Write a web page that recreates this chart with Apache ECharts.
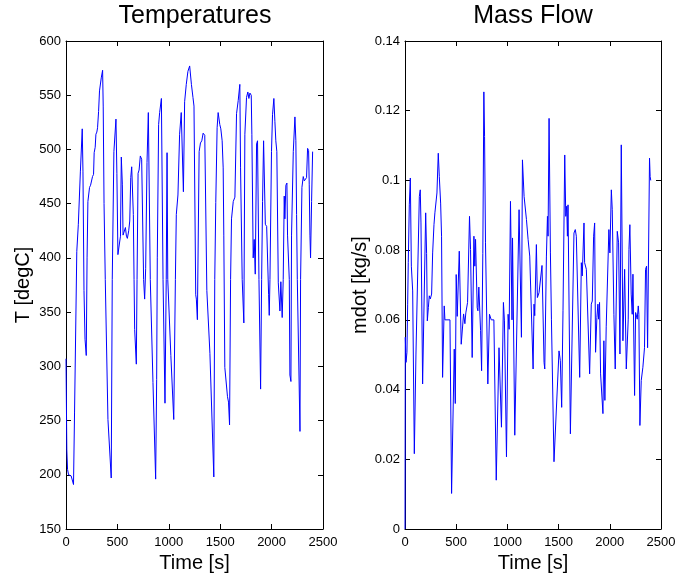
<!DOCTYPE html>
<html>
<head>
<meta charset="utf-8">
<script src="https://cdn.jsdelivr.net/npm/echarts@6/dist/echarts.min.js"></script>
<style>html,body{margin:0;padding:0;background:#fff;}#c{width:677px;height:575px;}</style>
</head>
<body>
<div id="c"></div>
<script>
// ---- Temperatures (left panel) ----
const tempTime = [0,8,15,25,50,73,83,105,120,140,158,165,175,185,197,205,213,229,239,252,258,268,274,284,291,300,307,317,326,343,356,362,370,382,408,440,450,466,486,495,505,515,530,538,548,555,568,578,588,597,610,620,630,639,649,655,662,668,684,691,701,711,723,736,755,765,775,788,801,820,846,872,882,888,901,911,928,944,963,975,983,990,1020,1048,1064,1073,1089,1105,1121,1131,1142,1154,1170,1186,1203,1220,1235,1245,1262,1268,1278,1295,1308,1321,1334,1350,1360,1370,1400,1438,1447,1457,1470,1480,1496,1506,1519,1529,1535,1545,1571,1581,1591,1601,1610,1627,1643,1659,1675,1691,1698,1714,1730,1740,1756,1769,1779,1789,1802,1808,1821,1831,1841,1854,1863,1877,1893,1903,1912,1922,1932,1939,1952,1958,1971,1977,1984,1999,2009,2022,2032,2041,2051,2065,2081,2090,2103,2113,2123,2129,2139,2149,2155,2172,2178,2188,2194,2211,2227,2236,2243,2250,2276,2282,2295,2308,2318,2331,2340,2350,2360,2366,2373,2379,2389,2399];
const tempValue = [307,223,205,200,199,191,257,406,431,480,519,480,370,325,310,400,452,465,467,467,475,477,497,502,514,516,520,535,554,566,573,540,450,380,251,197,380,498,528,478,403,410,420,493,468,421,421,428,420,418,425,434,474,484,483,440,380,334,302,380,478,481,494,491,380,362,390,488,534,380,285,196,288,400,523,534,547,380,266,380,497,380,310,251,380,440,458,514,534,535,461,544,560,572,577,560,548,540,366,362,343,498,506,508,515,513,512,370,312,198,380,451,520,534,523,519,508,483,421,299,272,267,246,380,436,452,456,533,545,560,483,380,340,514,548,553,547,552,550,514,400,417,385,505,508,380,279,380,452,508,508,431,429,428,366,347,380,498,532,547,526,508,498,377,351,378,345,380,457,436,467,469,421,380,292,286,421,498,530,508,440,380,240,380,465,475,471,471,474,501,499,468,421,400,452,498];

// ---- Mass Flow (right panel) ----
const flowTime = [0,3,10,19,26,32,42,52,62,75,91,107,140,149,156,172,202,211,218,228,237,247,260,270,283,292,302,312,325,335,348,357,367,383,390,439,455,481,491,500,510,530,549,572,585,594,611,630,640,656,673,682,689,705,712,721,738,748,760,770,777,786,796,809,825,842,868,891,918,942,961,971,991,1007,1017,1030,1040,1045,1050,1072,1114,1137,1147,1157,1163,1186,1202,1218,1228,1251,1260,1267,1283,1293,1309,1338,1358,1365,1381,1391,1397,1407,1413,1420,1430,1446,1455,1504,1517,1530,1543,1560,1570,1579,1586,1592,1615,1650,1663,1673,1706,1722,1731,1748,1754,1771,1803,1819,1829,1842,1852,1861,1874,1884,1890,1900,1910,1933,1942,1952,1965,1991,2001,2015,2024,2040,2053,2073,2086,2099,2112,2128,2145,2161,2180,2187,2196,2209,2219,2226,2242,2252,2268,2278,2284,2294,2307,2323,2339,2349,2359,2369,2388,2394,2400];
const flowValue = [0,0.055,0.0478,0.0507,0.0645,0.0764,0.093,0.1007,0.0754,0.0683,0.0216,0.0502,0.0954,0.0973,0.0878,0.0416,0.0907,0.079,0.0597,0.0635,0.0669,0.066,0.0674,0.0792,0.0873,0.0907,0.0902,0.0964,0.1078,0.1011,0.0935,0.084,0.0435,0.064,0.06,0.06,0.0102,0.0516,0.036,0.073,0.061,0.0797,0.053,0.0617,0.0589,0.062,0.065,0.0897,0.0802,0.0492,0.084,0.0754,0.0831,0.0635,0.0626,0.0694,0.0569,0.0454,0.079,0.1254,0.1126,0.0821,0.0821,0.0416,0.0616,0.06,0.06,0.014,0.052,0.0292,0.065,0.0597,0.0207,0.0616,0.0573,0.094,0.0935,0.06,0.0835,0.0269,0.0916,0.055,0.1059,0.1064,0.0954,0.0888,0.0831,0.0783,0.0778,0.0459,0.0645,0.0612,0.0816,0.0664,0.0678,0.0756,0.0478,0.0459,0.0783,0.0897,0.084,0.1178,0.1173,0.0792,0.0602,0.0602,0.0193,0.0511,0.0483,0.0349,0.0626,0.1073,0.0897,0.0926,0.084,0.093,0.0273,0.0849,0.0859,0.084,0.0435,0.0764,0.0726,0.0878,0.0764,0.0745,0.0445,0.0645,0.0654,0.084,0.0878,0.0507,0.0607,0.0645,0.0602,0.065,0.0445,0.0331,0.054,0.0369,0.058,0.0859,0.0792,0.0973,0.0916,0.0616,0.0459,0.0854,0.0821,0.0502,0.1102,0.054,0.0745,0.0459,0.0602,0.0802,0.0873,0.0674,0.0616,0.0731,0.0383,0.0621,0.0602,0.064,0.0616,0.0297,0.0426,0.0464,0.052,0.0745,0.0754,0.052,0.1064,0.1011,0.1];

const titles = ['Temperatures', 'Mass Flow'];
const xName = 'Time [s]';
const yNames = ['T [degC]', 'mdot [kg/s]'];

const FONT = '"Liberation Sans", Arial, Helvetica, sans-serif';
const BLACK = '#000';

function zip(a, b) { return a.map((v, i) => [v, b[i]]); }

function xAx(grid, pos, labels) {
  return {
    type: 'value', gridIndex: grid, position: pos, min: 0, max: 2500, interval: 500,
    axisLine: {show: true, onZero: false, lineStyle: {color: BLACK, width: 1}},
    axisTick: {show: true, inside: true, length: 5, lineStyle: {color: BLACK}},
    axisLabel: {show: labels, color: BLACK, fontSize: 13, fontFamily: FONT, margin: 7,
                formatter: v => String(v)},
    splitLine: {show: false},
    name: labels ? xName : '', nameLocation: 'middle', nameGap: 21,
    nameTextStyle: {color: BLACK, fontSize: 20, fontFamily: FONT}
  };
}
function yAx(grid, pos, labels, min, max, interval, name, gap) {
  return {
    type: 'value', gridIndex: grid, position: pos, min: min, max: max, interval: interval,
    axisLine: {show: true, onZero: false, lineStyle: {color: BLACK, width: 1}},
    axisTick: {show: true, inside: true, length: 5, lineStyle: {color: BLACK}},
    axisLabel: {show: labels, color: BLACK, fontSize: 13, fontFamily: FONT, margin: 5},
    splitLine: {show: false},
    name: labels ? name : '', nameLocation: 'middle', nameGap: gap,
    nameTextStyle: {color: BLACK, fontSize: 20, fontFamily: FONT}
  };
}

const chart = echarts.init(document.getElementById('c'), null, {renderer: 'canvas'});
chart.setOption({
  animation: false,
  backgroundColor: '#fff',
  title: [
    {text: titles[0], left: 195, top: 4, padding: 0, textAlign: 'center',
     textStyle: {fontSize: 25, fontWeight: 'normal', color: BLACK, fontFamily: FONT}},
    {text: titles[1], left: 533, top: 4, padding: 0, textAlign: 'center',
     textStyle: {fontSize: 25, fontWeight: 'normal', color: BLACK, fontFamily: FONT}}
  ],
  grid: [
    {left: 66, top: 41, width: 257, height: 488, containLabel: false, outerBoundsMode: 'none'},
    {left: 405, top: 41, width: 256, height: 488, containLabel: false, outerBoundsMode: 'none'}
  ],
  xAxis: [xAx(0, 'bottom', true), xAx(0, 'top', false), xAx(1, 'bottom', true), xAx(1, 'top', false)],
  yAxis: [
    yAx(0, 'left', true, 150, 600, 50, yNames[0], 33),
    yAx(0, 'right', false, 150, 600, 50, '', 0),
    yAx(1, 'left', true, 0, 0.14, 0.02, yNames[1], 34),
    yAx(1, 'right', false, 0, 0.14, 0.02, '', 0)
  ],
  series: [
    {type: 'line', xAxisIndex: 0, yAxisIndex: 0, data: zip(tempTime, tempValue),
     showSymbol: false, symbol: 'none', lineStyle: {color: '#0000ff', width: 1}, itemStyle: {color: '#0000ff'}},
    {type: 'line', xAxisIndex: 2, yAxisIndex: 2, data: zip(flowTime, flowValue),
     showSymbol: false, symbol: 'none', lineStyle: {color: '#0000ff', width: 1}, itemStyle: {color: '#0000ff'}}
  ]
});
</script>
</body>
</html>
